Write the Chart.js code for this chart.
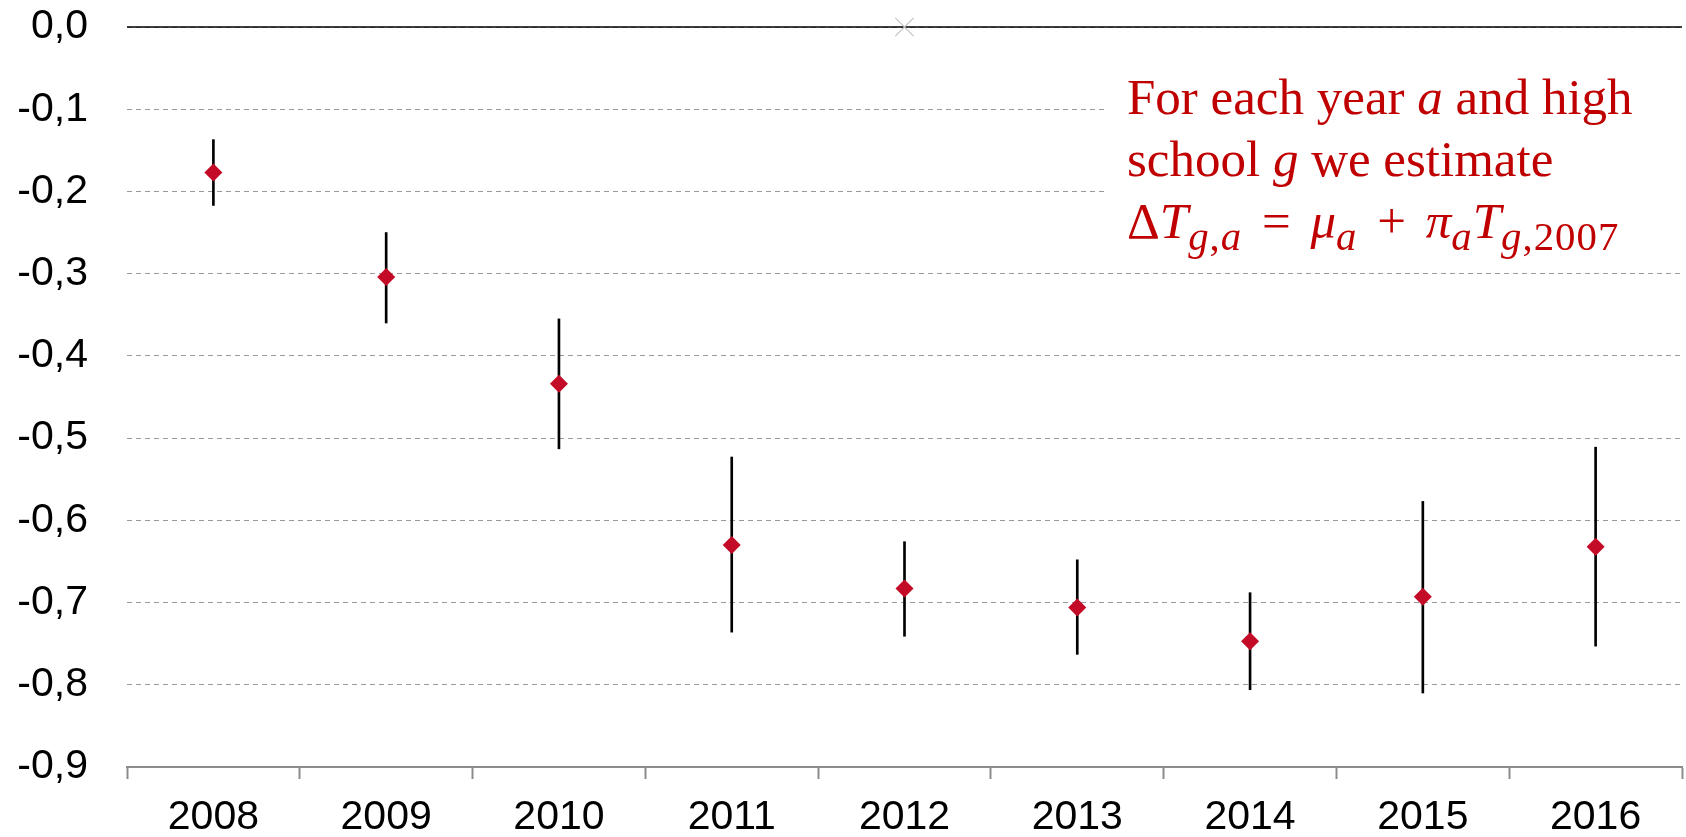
<!DOCTYPE html>
<html>
<head>
<meta charset="utf-8">
<script src="https://cdn.jsdelivr.net/npm/chart.js@4.4.1/dist/chart.umd.min.js"></script>
<style>
  html, body { margin: 0; padding: 0; background: #fff; }
  #wrap { position: relative; width: 1686px; height: 837px; }
  #note { position: absolute; left: 1107px; top: 60px; width: 579px; height: 195px; background: #fff; }
  #noteText { position: absolute; left: 20px; top: 6px; font-family: "Liberation Serif", "Times New Roman", serif;
    font-size: 51px; line-height: 62px; color: #c00000; white-space: nowrap; }
  #noteText i { font-style: italic; }
  #noteText sub { font-size: 0.8em; line-height: 0; vertical-align: -0.3em; letter-spacing: 1px; }
  #noteText .op { padding: 0 7px; }
</style>
</head>
<body>
<div id="wrap">
  <canvas id="c"></canvas>
  <div id="note"><div id="noteText">For each year <i>a</i> and high<br>school <i>g</i> we estimate<br>Δ<i>T</i><sub><i>g</i>,<i>a</i></sub> <span class="op">=</span> <i>μ</i><sub><i>a</i></sub> <span class="op">+</span> <i>π</i><sub><i>a</i></sub><i>T</i><sub><i>g</i>,2007</sub></div></div>
</div>
<script>
// ---- data ----
const years = ['2008', '2009', '2010', '2011', '2012', '2013', '2014', '2015', '2016'];
const estimates = [-0.177, -0.304, -0.434, -0.630, -0.683, -0.706, -0.747, -0.693, -0.632];
const ciLow  = [-0.217, -0.360, -0.513, -0.736, -0.741, -0.763, -0.806, -0.810, -0.753];
const ciHigh = [-0.137, -0.250, -0.355, -0.523, -0.626, -0.648, -0.688, -0.577, -0.511];
const refMarker = [null, null, null, null, 0, null, null, null, null];
const yTickLabels = ['0,0', '-0,1', '-0,2', '-0,3', '-0,4', '-0,5', '-0,6', '-0,7', '-0,8', '-0,9'];

const zeroLine = {
  id: 'zeroLine',
  beforeDatasetsDraw(chart) {
    const y = chart.scales.y.getPixelForValue(0);
    const a = chart.chartArea;
    const ctx = chart.ctx;
    ctx.save();
    ctx.strokeStyle = '#000';
    ctx.lineWidth = 1.5;
    ctx.beginPath();
    ctx.moveTo(a.left, y);
    ctx.lineTo(a.right, y);
    ctx.stroke();
    ctx.restore();
  }
};

new Chart(document.getElementById('c'), {
  type: 'bar',
  data: {
    labels: years,
    datasets: [
      {
        type: 'line',
        label: 'estimate',
        data: estimates,
        showLine: false,
        pointStyle: 'rectRot',
        pointRadius: 9,
        pointHoverRadius: 9,
        pointBackgroundColor: '#c30a26',
        pointBorderWidth: 0,
        order: 0
      },
      {
        type: 'line',
        label: 'ref',
        data: refMarker,
        showLine: false,
        clip: false,
        pointStyle: 'crossRot',
        pointRadius: 13,
        pointBorderColor: '#c4c4c4',
        pointBorderWidth: 1.2,
        order: 1
      },
      {
        type: 'bar',
        label: 'ci',
        data: years.map((_, i) => [ciLow[i], ciHigh[i]]),
        backgroundColor: '#000',
        borderWidth: 0,
        barThickness: 2,
        order: 2
      }
    ]
  },
  options: {
    responsive: true,
    maintainAspectRatio: false,
    animation: false,
    events: [],
    layout: { autoPadding: false, padding: { top: 27, right: 4, left: 0, bottom: 0 } },
    plugins: { legend: { display: false }, tooltip: { enabled: false } },
    scales: {
      x: {
        offset: true,
        grid: { offset: true, drawOnChartArea: false, drawTicks: true, tickLength: 12, tickColor: '#8c8c8c', tickWidth: 2 },
        border: { display: true, color: '#8c8c8c', width: 2 },
        ticks: { color: '#000', font: { family: '"Liberation Sans", Arial, sans-serif', size: 41 }, padding: 14, maxRotation: 0 },
        afterFit(scale) { scale.height = 70; scale.paddingLeft = 0; scale.paddingRight = 0; }
      },
      y: {
        min: -0.9,
        max: 0,
        grid: {
          drawTicks: false,
          lineWidth: 1,
          color: (ctx) => (ctx.tick && Math.abs(ctx.tick.value + 0.9) < 1e-6) ? 'rgba(0,0,0,0)' : '#9a9a9a'
        },
        border: { display: false, dash: [5, 4] },
        ticks: {
          stepSize: 0.1,
          color: '#000',
          padding: 39,
          font: { family: '"Liberation Sans", Arial, sans-serif', size: 41 },
          callback: (v) => yTickLabels[Math.round(-v * 10)]
        },
        afterFit(scale) { scale.width = 127; scale.paddingTop = 0; scale.paddingBottom = 0; }
      }
    }
  },
  plugins: [zeroLine]
});
</script>
</body>
</html>
